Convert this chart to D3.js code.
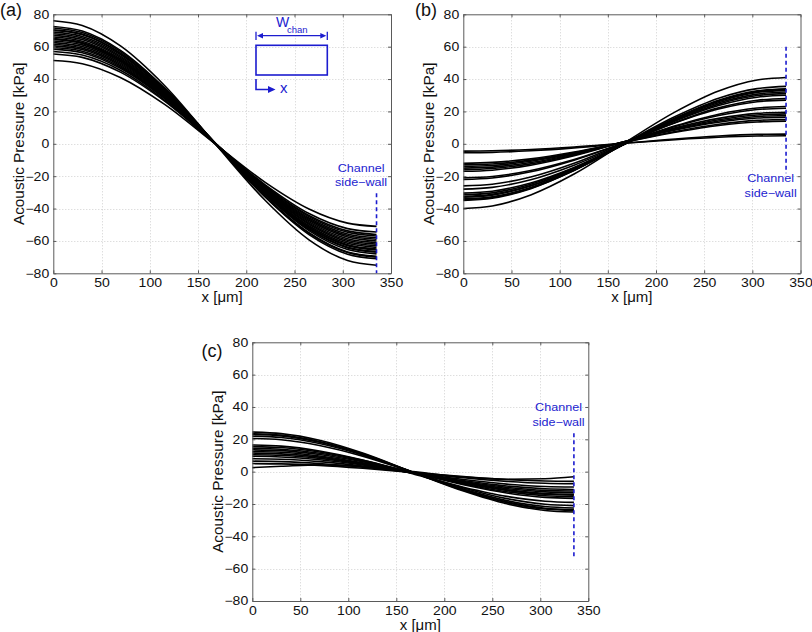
<!DOCTYPE html>
<html>
<head>
<meta charset="utf-8">
<script src="https://cdn.jsdelivr.net/npm/d3@7/dist/d3.min.js"></script>
<style>
  html, body { margin: 0; padding: 0; background: #fff; }
  svg { display: block; }
  text { font-family: "Liberation Sans", Arial, Helvetica, sans-serif; }
</style>
</head>
<body>
<svg id="chart" width="812" height="632"></svg>
<script>
// ---------------- DATA ----------------
const xSamples = [0, 30, 70, 115, 167, 220, 265, 305, 335];
const xTicks = [0, 50, 100, 150, 200, 250, 300, 350];
const yTicks = [-80, -60, -40, -20, 0, 20, 40, 60, 80];
const panelLabels = ["(a)", "(b)", "(c)"];
const xLabel = "x [\u03bcm]";
const yLabel = "Acoustic Pressure [kPa]";
const wallX = 335;
const wallTop = [-30.6, 60, 23.7];
const wallBottom = [-80, -18.2, -53.6];
const wallText = ["Channel", "side\u2212wall"];
const wallTextX = 319;
const wallTextY = [[-17.2, -25.9], [-23.4, -32.7], [37.5, 28.4]];

const panelACurves = [
  [76, 73.1, 60.3, 36.2, 0.5, -35.2, -59.3, -72.1, -75],
  [72.5, 69.7, 57.6, 34.7, 0.8, -33.2, -56.1, -68.2, -71],
  [71.5, 68.7, 56.8, 34.2, 0.8, -32.7, -55.3, -67.2, -70],
  [70.5, 67.8, 55.9, 33.6, 0.5, -32.6, -54.9, -66.8, -69.5],
  [70, 67.3, 55.6, 33.6, 1, -31.6, -53.6, -65.3, -68],
  [69, 66.3, 54.9, 33.2, 1, -31.2, -52.9, -64.3, -67],
  [68, 65.4, 54.0, 32.6, 0.8, -31.1, -52.5, -63.9, -66.5],
  [67, 64.4, 53.2, 32.1, 0.8, -30.6, -51.7, -62.9, -65.5],
  [66, 63.4, 52.4, 31.5, 0.5, -30.5, -51.4, -62.4, -65],
  [65, 62.5, 51.6, 31.0, 0.5, -30.0, -50.6, -61.5, -64],
  [64.5, 62.0, 51.2, 30.9, 0.8, -29.4, -49.7, -60.5, -63],
  [63.5, 61.1, 50.5, 30.4, 0.8, -28.9, -49.0, -59.6, -62],
  [62.5, 60.1, 49.7, 30.0, 0.8, -28.5, -48.2, -58.6, -61],
  [61.5, 59.1, 48.9, 29.5, 0.8, -28.0, -47.4, -57.6, -60],
  [60.5, 58.2, 48.1, 29.0, 0.8, -27.5, -46.6, -56.7, -59],
  [59.5, 57.2, 47.3, 28.5, 0.8, -27.0, -45.8, -55.7, -58],
  [58.5, 56.3, 46.5, 28.1, 0.8, -26.5, -45.0, -54.7, -57],
  [57, 54.8, 45.3, 27.2, 0.5, -26.2, -44.3, -53.8, -56],
  [55.5, 53.4, 44.1, 26.5, 0.5, -25.5, -43.1, -52.4, -54.5],
  [51.5, 49.5, 40.8, 24.5, 0.3, -24.0, -40.3, -49.0, -51]
];

const panelBCurves = [
  [-40, -38.4, -31.6, -18.7, 0.5, 19.7, 32.6, 39.4, 41],
  [-35, -33.6, -27.7, -16.4, 0.3, 16.9, 28.2, 34.1, 35.5],
  [-34.5, -33.2, -27.4, -16.5, -0.3, 15.9, 26.9, 32.7, 34],
  [-34, -32.7, -27.0, -16.2, -0.3, 15.7, 26.5, 32.2, 33.5],
  [-33, -31.7, -26.1, -15.6, 0, 15.6, 26.1, 31.7, 33],
  [-32.5, -31.2, -25.8, -15.5, -0.3, 15.0, 25.3, 30.7, 32],
  [-31.5, -30.3, -25.0, -15.0, -0.3, 14.5, 24.5, 29.8, 31],
  [-30.5, -29.3, -24.2, -14.6, -0.3, 14.1, 23.7, 28.8, 30],
  [-28, -26.9, -22.2, -13.2, 0, 13.2, 22.2, 26.9, 28],
  [-26, -25.0, -20.5, -12.0, 0.5, 13.0, 21.5, 26.0, 27],
  [-22, -21.1, -17.3, -10.1, 0.5, 11.1, 18.3, 22.1, 23],
  [-21, -20.2, -16.5, -9.7, 0.5, 10.7, 17.5, 21.2, 22],
  [-17, -16.3, -13.2, -7.4, 1.3, 9.9, 15.7, 18.8, 19.5],
  [-16, -15.3, -12.4, -6.9, 1.3, 9.4, 14.9, 17.8, 18.5],
  [-15, -14.4, -11.6, -6.4, 1.3, 8.9, 14.1, 16.9, 17.5],
  [-14, -13.4, -10.8, -6.0, 1.3, 8.5, 13.3, 15.9, 16.5],
  [-13, -12.5, -10.1, -5.6, 1, 7.6, 12.1, 14.5, 15],
  [-12, -11.5, -9.3, -5.1, 1, 7.1, 11.3, 13.5, 14],
  [-5.5, -5.3, -4.3, -2.5, 0.3, 3.0, 4.8, 5.8, 6],
  [-4.5, -4.3, -3.5, -2.0, 0.3, 2.5, 4.0, 4.8, 5]
];

const panelCCurves = [
  [24.5, 23.5, 19.4, 11.5, -0.3, -12.0, -19.9, -24.0, -25],
  [23.5, 22.6, 18.6, 11.0, -0.3, -11.5, -19.1, -23.1, -24],
  [23, 22.1, 18.2, 10.7, -0.3, -11.3, -18.7, -22.6, -23.5],
  [22, 21.1, 17.4, 10.3, -0.3, -10.8, -17.9, -21.6, -22.5],
  [20.5, 19.7, 16.2, 9.6, -0.3, -10.1, -16.7, -20.2, -21],
  [16.5, 15.8, 12.8, 7.2, -1.3, -9.6, -15.3, -18.3, -19],
  [15.5, 14.9, 12.2, 7.1, -0.5, -8.1, -13.2, -15.9, -16.5],
  [14.5, 13.9, 11.4, 6.6, -0.5, -7.6, -12.4, -14.9, -15.5],
  [13.5, 13.0, 10.6, 6.1, -0.5, -7.1, -11.6, -14.0, -14.5],
  [12.5, 12.0, 9.7, 5.5, -0.8, -7.0, -11.2, -13.5, -14],
  [11.5, 11.0, 9.0, 5.0, -0.8, -6.5, -10.5, -12.5, -13],
  [10.5, 10.1, 8.2, 4.6, -0.8, -6.1, -9.7, -11.6, -12],
  [9.5, 9.1, 7.4, 4.1, -0.8, -5.6, -8.9, -10.6, -11],
  [8, 7.7, 6.2, 3.4, -0.8, -4.9, -7.7, -9.2, -9.5],
  [6.5, 6.2, 5.0, 2.8, -0.5, -3.8, -6.0, -7.2, -7.5],
  [5, 4.8, 3.9, 2.1, -0.5, -3.1, -4.9, -5.8, -6],
  [2.5, 3.3, 4.2, 3.2, 0, -3.3, -4.7, -4.4, -3.2]
];

// ---------------- LAYOUT ----------------
const panels = [
  { left: 53.3, right: 391, top: 14.3, bottom: 273.3, curves: panelACurves, lx: 0, ly: 16 },
  { left: 463.3, right: 800.5, top: 14.3, bottom: 273.3, curves: panelBCurves, lx: 415, ly: 16 },
  { left: 252.3, right: 588.3, top: 342.3, bottom: 601, curves: panelCCurves, lx: 201.5, ly: 357 }
];

const svg = d3.select("#chart");
svg.append("rect").attr("width", 812).attr("height", 632).attr("fill", "#fff");

const blue = "#1c1ccf";
const axisColor = "#5a5a5a";
const SX = 1.17;

panels.forEach((p, pi) => {
  const xs = d3.scaleLinear().domain([0, 350]).range([p.left, p.right]);
  const ys = d3.scaleLinear().domain([-80, 80]).range([p.bottom, p.top]);
  const g = svg.append("g");

  // grid
  g.selectAll(".gx").data(xTicks.slice(1, -1)).join("line")
    .attr("x1", d => Math.round(xs(d)) + 0.5).attr("x2", d => Math.round(xs(d)) + 0.5)
    .attr("y1", p.top).attr("y2", p.bottom)
    .attr("stroke", "#c4c4c4").attr("stroke-width", 0.8).attr("stroke-dasharray", "1,2");
  g.selectAll(".gy").data(yTicks.slice(1, -1)).join("line")
    .attr("y1", d => Math.round(ys(d)) + 0.5).attr("y2", d => Math.round(ys(d)) + 0.5)
    .attr("x1", p.left).attr("x2", p.right)
    .attr("stroke", "#c4c4c4").attr("stroke-width", 0.8).attr("stroke-dasharray", "1,2");

  // curves
  const line = d3.line()
    .x((d, i) => xs(xSamples[i]))
    .y(d => ys(d))
    .curve(d3.curveMonotoneX);
  g.selectAll(".curve").data(p.curves).join("path")
    .attr("d", line).attr("fill", "none")
    .attr("stroke", "#000").attr("stroke-width", 1.6);

  // channel side-wall
  g.append("line")
    .attr("x1", xs(wallX)).attr("x2", xs(wallX))
    .attr("y1", ys(wallTop[pi])).attr("y2", ys(wallBottom[pi]))
    .attr("stroke", blue).attr("stroke-width", 1.6).attr("stroke-dasharray", "4,3");
  wallText.forEach((t, ti) => {
    g.append("text")
      .attr("transform", `translate(${xs(wallTextX)},${ys(wallTextY[pi][ti])}) scale(1.2,1)`)
      .attr("text-anchor", "middle").attr("font-size", 10.5).attr("fill", blue)
      .text(t);
  });

  // axes (box with inward ticks)
  const styleAxis = sel => {
    sel.selectAll("path.domain").attr("stroke", axisColor);
    sel.selectAll(".tick line").attr("stroke", axisColor);
  };
  const bottom = g.append("g").attr("transform", `translate(0,${p.bottom})`)
    .call(d3.axisBottom(xs).tickValues(xTicks).tickSize(-3).tickSizeOuter(0).tickPadding(5.5).tickFormat(d3.format("d")));
  const left = g.append("g").attr("transform", `translate(${p.left},0)`)
    .call(d3.axisLeft(ys).tickValues(yTicks).tickSize(-3).tickSizeOuter(0).tickPadding(3.5).tickFormat(d3.format("d")));
  const top = g.append("g").attr("transform", `translate(0,${p.top})`)
    .call(d3.axisTop(xs).tickValues(xTicks).tickSize(-3).tickSizeOuter(0).tickFormat(() => ""));
  const right = g.append("g").attr("transform", `translate(${p.right},0)`)
    .call(d3.axisRight(ys).tickValues(yTicks).tickSize(-3).tickSizeOuter(0).tickFormat(() => ""));
  [bottom, left, top, right].forEach(styleAxis);
  [bottom, left].forEach(a => a.selectAll(".tick text")
    .attr("font-size", 12).attr("font-family", "'Liberation Sans', Arial, sans-serif")
    .attr("fill", "#111").attr("transform", `scale(${SX},1)`));

  // axis labels
  g.append("text")
    .attr("x", (p.left + p.right) / 2).attr("y", p.bottom + 29)
    .attr("text-anchor", "middle").attr("font-size", 15).attr("fill", "#111")
    .text(xLabel);
  g.append("text")
    .attr("transform", `translate(${p.left - 29},${(p.top + p.bottom) / 2}) rotate(-90)`)
    .attr("text-anchor", "middle").attr("font-size", 15.3).attr("fill", "#111")
    .text(yLabel);

  // panel label
  g.append("text").attr("x", p.lx).attr("y", p.ly)
    .attr("font-size", 18).attr("fill", "#111").text(panelLabels[pi]);

  // inset schematic in panel (a)
  if (pi === 0) {
    const Lx = 256, Rx = 327.3, Ty = 45.3, By = 75;
    const ig = g.append("g").attr("stroke", blue).attr("fill", "none");
    ig.append("rect").attr("x", Lx).attr("y", Ty).attr("width", Rx - Lx).attr("height", By - Ty)
      .attr("stroke-width", 1.6);
    const dy = Ty - 9.6;
    ig.append("line").attr("x1", Lx + 4).attr("x2", Rx - 4).attr("y1", dy).attr("y2", dy).attr("stroke-width", 1.3);
    ig.append("line").attr("x1", Lx).attr("x2", Lx).attr("y1", Ty - 13.6).attr("y2", Ty - 5.3).attr("stroke-width", 1.3);
    ig.append("line").attr("x1", Rx).attr("x2", Rx).attr("y1", Ty - 13.6).attr("y2", Ty - 5.3).attr("stroke-width", 1.3);
    g.append("path").attr("fill", blue)
      .attr("d", `M${Lx + 1},${dy} L${Lx + 7},${dy - 2.8} L${Lx + 7},${dy + 2.8} Z`);
    g.append("path").attr("fill", blue)
      .attr("d", `M${Rx - 1},${dy} L${Rx - 7},${dy - 2.8} L${Rx - 7},${dy + 2.8} Z`);
    g.append("text").attr("x", Lx + 20).attr("y", Ty - 18.5).attr("font-size", 14).attr("fill", blue).text("W");
    g.append("text").attr("x", Lx + 31).attr("y", Ty - 12.3).attr("font-size", 9.5).attr("fill", blue).text("chan");
    // x arrow
    const ay = By + 14.5;
    ig.append("path").attr("d", `M${Lx},${By + 4} V${ay} H${Lx + 13}`).attr("stroke-width", 1.6);
    g.append("path").attr("fill", blue)
      .attr("d", `M${Lx + 19.5},${ay} L${Lx + 12},${ay - 3.5} L${Lx + 12},${ay + 3.5} Z`);
    g.append("text").attr("x", Lx + 24).attr("y", By + 17.7).attr("font-size", 15).attr("fill", blue).text("x");
  }
});
</script>
</body>
</html>
